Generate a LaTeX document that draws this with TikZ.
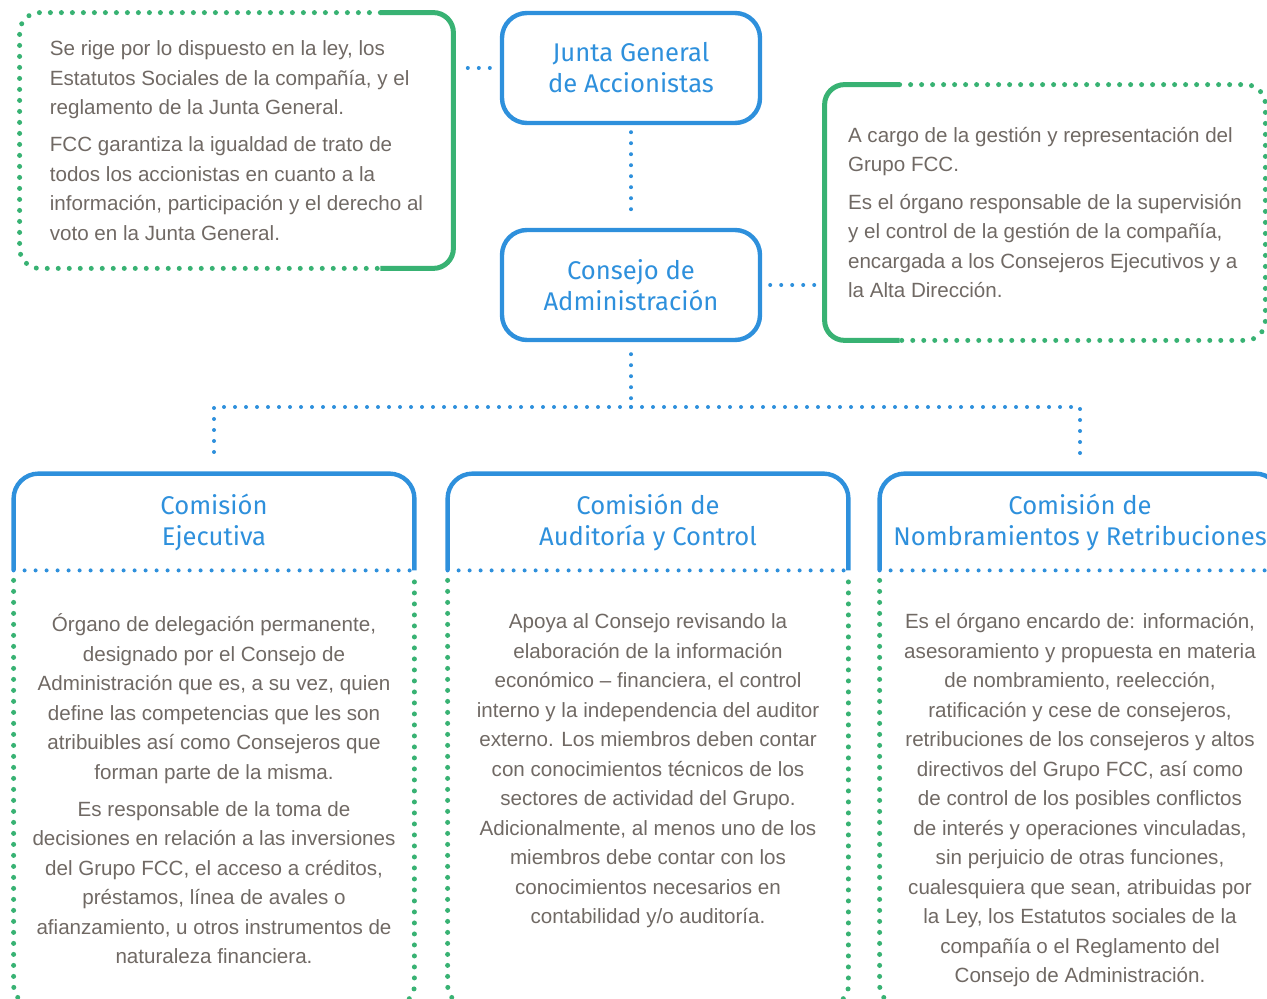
\documentclass[tikz,border=0pt]{standalone}
\usepackage{fontspec}
\setmainfont{Liberation Sans}
\newfontfamily\titlefont{Fira Sans}
\usepackage{xcolor}
\usetikzlibrary{positioning}
\definecolor{fccblue}{RGB}{46,144,220}
\definecolor{fccgreen}{RGB}{56,178,115}
\definecolor{fccgray}{RGB}{112,105,100}

\begin{document}
\begin{tikzpicture}[x=0.5pt, y=-0.5pt,
    bdots/.style={draw=fccblue, line width=2pt, line cap=round, dash pattern=on 0pt off 5.5pt},
    gdots/.style={draw=fccgreen, line width=2.5pt, line cap=round, dash pattern=on 0pt off 5.5pt},
    gline/.style={draw=fccgreen, line width=2.5pt},
    bline/.style={draw=fccblue, line width=2.2pt},
    titlebox/.style={bline, rounded corners=12.5pt, minimum width=129pt, minimum height=55pt, align=center, text=fccblue, font=\titlefont\fontsize{12.8}{15.5}\selectfont},
    header/.style={minimum width=200pt, minimum height=48pt, inner sep=0pt, align=center, text=fccblue, font=\titlefont\fontsize{12.8}{15.5}\selectfont},
    infobox/.style={inner sep=0pt, align=left, text=fccgray, font=\fontsize{10.3}{14.75}\selectfont},
    bodytext/.style={inner sep=0pt, align=center, text=fccgray, font=\fontsize{10.3}{14.75}\selectfont}]
        \useasboundingbox (0,0) rectangle (1267,999);
        \clip (0,0) rectangle (1267,999);

        \node[titlebox] (junta) at (631,68) {Junta General\\de Accionistas};
        \node[titlebox] (consejo) at (631,285) {Consejo de\\Administración};

        \node[infobox, minimum width=216.5pt, minimum height=127.5pt] (ley) at (236.5,140.5) {Se rige por lo dispuesto en la ley, los\\Estatutos Sociales de la compañía, y el\\reglamento de la Junta General.\\[3.75pt]FCC garantiza la igualdad de trato de\\todos los accionistas en cuanto a la\\información, participación y el derecho al\\voto en la Junta General.};
        \draw[gdots, rounded corners=10pt] ([xshift=-36.5pt]ley.north east) -| (ley.south west) -- ([xshift=-36.5pt]ley.south east);
        \draw[gline, rounded corners=10pt] ([xshift=-36.5pt]ley.north east) -| (ley.south east) -- ([xshift=-36.5pt]ley.south east);

        \node[infobox, minimum width=220pt, minimum height=127.5pt] (cargo) at (1045,212.5) {A cargo de la gestión y representación del\\Grupo FCC.\\[4pt]Es el órgano responsable de la supervisión\\y el control de la gestión de la compañía,\\encargada a los Consejeros Ejecutivos y a\\la Alta Dirección.};
        \draw[gline, rounded corners=10pt] ([xshift=37.5pt]cargo.north west) -| (cargo.south west) -- ([xshift=37.5pt]cargo.south west);
        \draw[gdots, rounded corners=10pt] ([xshift=37.5pt]cargo.north west) -| (cargo.south east) -- ([xshift=37.5pt]cargo.south west);

        \node[header] (ejecutiva) at (214,522) {Comisión\\Ejecutiva};
        \node[header] (auditoria) at (648,522) {Comisión de\\Auditoría y Control};
        \node[header] (nombramientos) at (1080,522) {Comisión de\\Nombramientos y Retribuciones};

        \node[bodytext, below=21.5pt of ejecutiva] (ejecutivatxt) {Órgano de delegación permanente,\\designado por el Consejo de\\Administración que es, a su vez, quien\\define las competencias que les son\\atribuibles así como Consejeros que\\forman parte de la misma.\\[3.75pt]Es responsable de la toma de\\decisiones en relación a las inversiones\\del Grupo FCC, el acceso a créditos,\\préstamos, línea de avales o\\afianzamiento, u otros instrumentos de\\naturaleza financiera.};
        \node[bodytext, below=21.5pt of auditoria] (auditoriatxt) {Apoya al Consejo revisando la\\elaboración de la información\\económico – financiera, el control\\interno y la independencia del auditor\\externo. Los miembros deben contar\\con conocimientos técnicos de los\\sectores de actividad del Grupo.\\Adicionalmente, al menos uno de los\\miembros debe contar con los\\conocimientos necesarios en\\contabilidad y/o auditoría.};
        \node[bodytext, below=21.5pt of nombramientos] (nombramientostxt) {Es el órgano encardo de: información,\\asesoramiento y propuesta en materia\\de nombramiento, reelección,\\ratificación y cese de consejeros,\\retribuciones de los consejeros y altos\\directivos del Grupo FCC, así como\\de control de los posibles conflictos\\de interés y operaciones vinculadas,\\sin perjuicio de otras funciones,\\cualesquiera que sean, atribuidas por\\la Ley, los Estatutos sociales de la\\compañía o el Reglamento del\\Consejo de Administración.};

        \foreach \b in {ejecutiva, auditoria, nombramientos} {
            \draw[bline, rounded corners=12.5pt] (\b.south west) -- (\b.north west) -- (\b.north east) -- (\b.south east);
            \draw[bdots] (\b.south west) -- (\b.south east);
            \draw[gdots, rounded corners=10pt] ([yshift=-5pt]\b.south west) |- ([yshift=-217.5pt]\b.south) -| ([yshift=-5pt]\b.south east);
        }

        \draw[bdots, shorten <=5pt, shorten >=3.5pt] (junta.west) -- (junta.west -| ley.east);
        \draw[bdots, shorten <=3.5pt, shorten >=4pt] (junta.south) -- (consejo.north);
        \draw[bdots, shorten <=4pt, shorten >=5pt] (consejo.east) -- (consejo.east -| cargo.west);

        \coordinate (split) at (631,407);
        \draw[bdots, shorten <=6pt] (consejo.south) -- (split);
        \draw[bdots] (split) -| ([yshift=8pt]ejecutiva.north);
        \draw[bdots] (split) -| ([yshift=8pt]nombramientos.north);
    \end{tikzpicture}
\end{document}
